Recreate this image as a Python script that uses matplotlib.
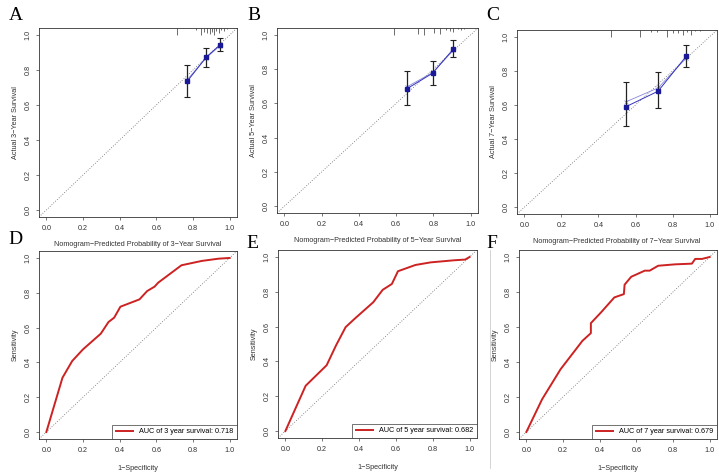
#! /usr/bin/python

"""
Calibration curves (A-C) and ROC curves (D-F) for 3-, 5- and 7-year survival.
"""

import matplotlib
matplotlib.use("Agg")
import matplotlib.pyplot as plt
from matplotlib.lines import Line2D
import numpy as np


# CALIBRATION DATA
years = [3, 5, 7]

cal_pred = [[0.769, 0.872, 0.949],
            [0.656, 0.796, 0.908],
            [0.547, 0.722, 0.873]]
cal_obs = [[0.736, 0.873, 0.945],
           [0.684, 0.776, 0.918],
           [0.589, 0.681, 0.885]]
cal_lo = [[0.645, 0.820, 0.911],
          [0.592, 0.707, 0.872],
          [0.474, 0.581, 0.822]]
cal_hi = [[0.831, 0.926, 0.983],
          [0.789, 0.849, 0.969],
          [0.736, 0.792, 0.952]]
cal_apparent = [[0.745, 0.870, 0.940],
                [0.695, 0.780, 0.910],
                [0.618, 0.700, 0.875]]

spike_x = [[0.714, 0.816, 0.844, 0.862, 0.879, 0.890, 0.903, 0.915, 0.926,
            0.940, 0.952, 0.967, 0.985],
           [0.589, 0.718, 0.751, 0.801, 0.838, 0.869, 0.888, 0.906, 0.930,
            0.948, 0.967],
           [0.470, 0.626, 0.681, 0.718, 0.770, 0.801, 0.829, 0.856, 0.880,
            0.899, 0.921, 0.948]]
spike_h = [[0.040, 0.012, 0.040, 0.020, 0.030, 0.035, 0.020, 0.040, 0.015,
            0.030, 0.010, 0.015, 0.008],
           [0.040, 0.035, 0.040, 0.030, 0.035, 0.010, 0.015, 0.025, 0.008,
            0.010, 0.006],
           [0.040, 0.040, 0.010, 0.010, 0.040, 0.015, 0.020, 0.030, 0.012,
            0.030, 0.008, 0.005]]

# ROC DATA
roc_fpr = [[0.0, 0.088, 0.141, 0.200, 0.297, 0.339, 0.370, 0.404, 0.508,
            0.550, 0.590, 0.610, 0.737, 0.848, 0.940, 1.0],
           [0.0, 0.110, 0.224, 0.275, 0.327, 0.376, 0.477, 0.528, 0.578,
            0.611, 0.706, 0.789, 0.917, 0.976, 1.0],
           [0.0, 0.086, 0.187, 0.306, 0.352, 0.352, 0.407, 0.480, 0.532,
            0.536, 0.572, 0.646, 0.673, 0.719, 0.811, 0.903, 0.921, 0.958,
            1.0]]
roc_tpr = [[0.0, 0.312, 0.408, 0.475, 0.565, 0.632, 0.657, 0.720, 0.762,
            0.810, 0.835, 0.858, 0.958, 0.983, 0.996, 1.0],
           [0.0, 0.260, 0.378, 0.492, 0.597, 0.645, 0.740, 0.811, 0.845,
            0.918, 0.954, 0.969, 0.981, 0.985, 1.0],
           [0.0, 0.187, 0.359, 0.521, 0.565, 0.622, 0.683, 0.769, 0.788,
            0.842, 0.887, 0.922, 0.922, 0.950, 0.958, 0.962, 0.989, 0.989,
            1.0]]
auc = ["0.718", "0.682", "0.679"]

ticks = [0.0, 0.2, 0.4, 0.6, 0.8, 1.0]
tick_labels = ["0.0", "0.2", "0.4", "0.6", "0.8", "1.0"]

top_letters = ["A", "B", "C"]
bottom_letters = ["D", "E", "F"]



W, H = 719.0, 476.0

# pixel boxes (x0, y0, x1, y1) measured from the top left corner
top_boxes = [(39, 28, 237, 217), (277, 28, 478, 213), (517, 30, 717, 214)]
bottom_boxes = [(39, 251, 237, 439), (278, 250, 477, 438), (519, 250, 717, 439)]
top_letter_pos = [(9, 20), (247, 20), (486, 20)]
bottom_letter_pos = [(8, 244), (246, 248), (486, 248)]

FONT = "Liberation Sans"
SMALL = 5.2



def makeAxes(fig, box):

    """
    Add an R-styled axes at a pixel box.
    """

    x0, y0, x1, y1 = box
    ax = fig.add_axes([x0 / W, 1 - y1 / H, (x1 - x0) / W, (y1 - y0) / H])
    ax.set_facecolor("none")
    ax.set_xlim(-0.04, 1.04)
    ax.set_ylim(-0.04, 1.04)
    ax.set_xticks(ticks)
    ax.set_xticklabels(tick_labels, fontsize = SMALL, family = FONT,
                       color = "#333333")
    ax.set_yticks(ticks)
    ax.set_yticklabels(tick_labels, fontsize = SMALL, family = FONT,
                       color = "#333333", rotation = 90, va = "center")
    ax.tick_params(direction = "out", length = 2.5, width = 0.5,
                   color = "#444444", pad = 3)
    for s in ax.spines.values():
        s.set_linewidth(0.6)
        s.set_color("#333333")

    return ax



def plotCalibration(fig, i):

    """
    Calibration plot for one horizon.
    """

    ax = makeAxes(fig, top_boxes[i])

    ax.axline((0, 0), (1, 1), ls = (0, (1, 2)), lw = 0.6, c = "#666666")

    for x, h in zip(spike_x[i], spike_h[i]):
        ax.plot([x, x], [1.04, 1.04 - h], lw = 0.6, c = "#555555",
                solid_capstyle = "butt")

    ax.plot(cal_pred[i], cal_apparent[i], ls = "-", lw = 0.6, c = "#8888dd",
            marker = "x", ms = 2.5, mew = 0.5)

    y = np.array(cal_obs[i])
    err = [y - np.array(cal_lo[i]), np.array(cal_hi[i]) - y]
    ax.errorbar(cal_pred[i], y, yerr = err, fmt = "none", ecolor = "#222222",
                elinewidth = 0.9, capsize = 2, capthick = 0.8)
    ax.plot(cal_pred[i], y, ls = "-", lw = 0.7, c = "#3333bb",
            marker = "s", ms = 2.2, mfc = "#1a1a99", mec = "#1a1a99")

    ax.set_ylabel("Actual %d\u2212Year Survival" % years[i], fontsize = SMALL,
                  family = FONT, color = "#333333", labelpad = 4)
    ax.set_xlabel("Nomogram\u2212Predicted Probability of %d\u2212Year Survival"
                  % years[i], fontsize = SMALL, family = FONT,
                  color = "#333333", labelpad = 7)

    lx, ly = top_letter_pos[i]
    fig.text(lx / W, 1 - ly / H, top_letters[i], fontsize = 14,
             family = "Liberation Serif")



def plotROC(fig, i):

    """
    ROC curve for one horizon.
    """

    ax = makeAxes(fig, bottom_boxes[i])

    ax.axline((0, 0), (1, 1), ls = (0, (1, 2)), lw = 0.6, c = "#666666")
    ax.plot(roc_fpr[i], roc_tpr[i], ls = "-", lw = 1.4, c = "#cc2222",
            label = "AUC of %d year survival: %s" % (years[i], auc[i]))

    leg = ax.legend(loc = "lower right", prop = {"family": FONT,
                    "size": SMALL}, borderaxespad = 0, fancybox = False,
                    handlelength = 2.4, borderpad = 0.5, handletextpad = 0.8)
    leg.get_frame().set_edgecolor("#333333")
    leg.get_frame().set_linewidth(0.6)

    ax.set_ylabel("Sensitivity", fontsize = SMALL, family = FONT,
                  color = "#333333", labelpad = 4)
    ax.set_xlabel("1\u2212Specificity", fontsize = SMALL, family = FONT,
                  color = "#333333", labelpad = 8)

    lx, ly = bottom_letter_pos[i]
    fig.text(lx / W, 1 - ly / H, bottom_letters[i], fontsize = 14,
             family = "Liberation Serif")



def main():

    fig = plt.figure(figsize = (W / 100, H / 100), dpi = 100)

    for i in range(3):
        plotCalibration(fig, i)
        plotROC(fig, i)

    # faint panel separator in the bottom row
    fig.add_artist(Line2D([490 / W, 490 / W], [1 - 250 / H, 1 - 468 / H],
                          lw = 0.6, c = "#cccccc"))

    fig.savefig("out.png", dpi = 100)



if __name__ == "__main__":
    main()
